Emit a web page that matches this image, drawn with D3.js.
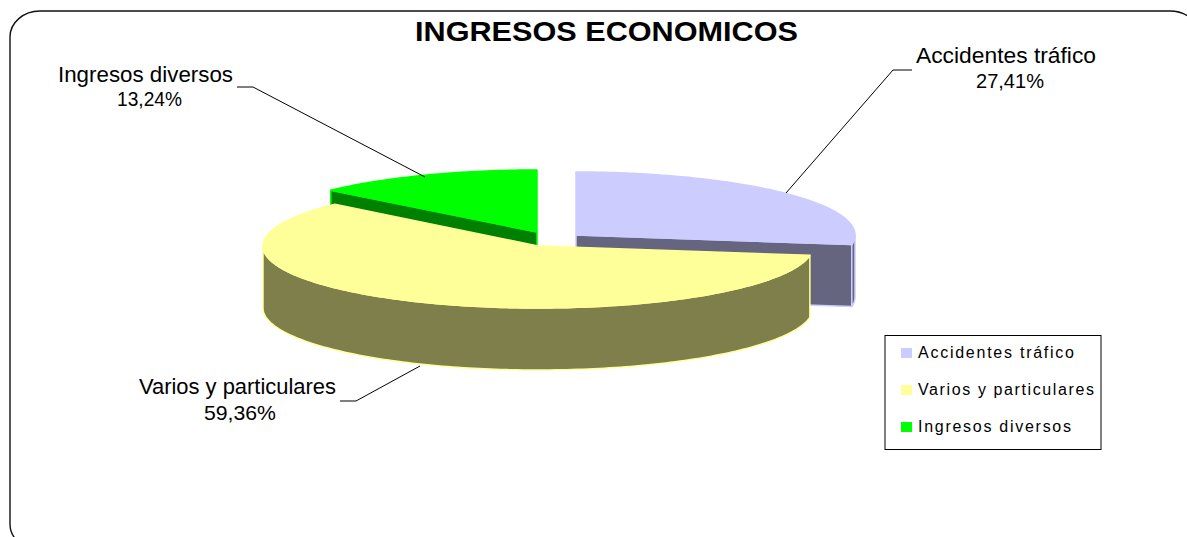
<!DOCTYPE html>
<html><head><meta charset="utf-8">
<script src="https://cdn.jsdelivr.net/npm/d3@7"></script>
<style>html,body{margin:0;padding:0;background:#fff;overflow:hidden}svg{display:block}text{font-family:"Liberation Sans",Arial,sans-serif;fill:#000}</style>
</head><body><svg id="c" width="1187" height="537"></svg>
<script>
const categories = ["Accidentes tráfico", "Varios y particulares", "Ingresos diversos"];
const values = [27.41, 59.36, 13.24];
const percentLabels = ["27,41%", "59,36%", "13,24%"];
const topColors = ["#CCCCFF", "#FFFF99", "#00FF00"];
const wallColors = ["#65657F", "#7F7F4C", "#008000"];
const edgeColors = ["#CCCCFF", "#FFFF99", "#00FF00"];
const centers = [[576, 235], [538, 246], [537, 232]];
const radii = [[279, 63], [275, 62], [279, 62]];
const depth = 62;
const drawOrder = [0, 2, 1];
const labelPos = [[1006, 63, 1010, 88], [237.5, 394, 240, 420], [145.5, 82, 149.5, 106]];
const labelWidths = [180, 197, 175];
const percentWidths = [68, 72, 65];
const legendWidths = [156, 176, 153];
const leaders = [[[786, 193], [893, 70], [912, 70]], [[420, 366], [356, 401], [340, 401]], [[425, 177], [253, 87], [237, 87]]];
const svg = d3.select("#c");
const line = d3.line();

svg.append("rect").attr("x", 10).attr("y", 11).attr("width", 1190).attr("height", 539)
  .attr("rx", 30).attr("ry", 26).attr("fill", "#fff").attr("stroke", "#111").attr("stroke-width", 1.4);

svg.append("text").attr("x", 606.5).attr("y", 41).attr("text-anchor", "middle")
  .attr("font-size", 28).attr("font-weight", "bold")
  .attr("textLength", 383).attr("lengthAdjust", "spacingAndGlyphs").text("INGRESOS ECONOMICOS");

const slices = d3.pie().sort(null).value(d => d)(values);
const point = (i, a, dy = 0) => [
  centers[i][0] + radii[i][0] * Math.sin(a),
  centers[i][1] - radii[i][1] * Math.cos(a) + dy
];
const angles = (a0, a1) => {
  const n = Math.max(2, Math.ceil((a1 - a0) / 0.02));
  return d3.range(n + 1).map(k => a0 + (a1 - a0) * k / n);
};

drawOrder.forEach(i => {
  const s = slices[i];
  const g = svg.append("g");
  const wall = (pts) => g.append("path").attr("d", line(pts) + "Z")
    .attr("fill", wallColors[i]).attr("stroke", edgeColors[i]).attr("stroke-width", 1.5).attr("stroke-linejoin", "round");
  const apex = [centers[i][0], centers[i][1]];
  if (i === 0) {
    const e = point(i, s.endAngle);
    wall([apex, e, [e[0], e[1] + depth], [apex[0], apex[1] + depth]]);
  }
  if (i === 2) {
    const e = point(i, s.startAngle);
    wall([e, apex, [apex[0], apex[1] + depth], [e[0], e[1] + depth]]);
  }
  const a0 = Math.max(s.startAngle, Math.PI / 2);
  const a1 = Math.min(s.endAngle, 3 * Math.PI / 2);
  if (a1 > a0) {
    const as = angles(a0, a1);
    wall(as.map(a => point(i, a)).concat(as.slice().reverse().map(a => point(i, a, depth))));
  }
  const top = [apex].concat(angles(s.startAngle, s.endAngle).map(a => point(i, a)));
  g.append("path").attr("d", line(top) + "Z").attr("fill", topColors[i])
    .attr("stroke", edgeColors[i]).attr("stroke-width", 1.5).attr("stroke-linejoin", "round");
});

categories.forEach((c, i) => {
  svg.append("path").attr("d", line(leaders[i])).attr("fill", "none").attr("stroke", "#000").attr("stroke-width", 1);
  const p = labelPos[i];
  svg.append("text").attr("x", p[0]).attr("y", p[1]).attr("text-anchor", "middle")
    .attr("font-size", 22).attr("textLength", labelWidths[i]).attr("lengthAdjust", "spacingAndGlyphs").text(c);
  svg.append("text").attr("x", p[2]).attr("y", p[3]).attr("text-anchor", "middle")
    .attr("font-size", 21).attr("textLength", percentWidths[i]).attr("lengthAdjust", "spacingAndGlyphs").text(percentLabels[i]);
});

const legendY = d3.scalePoint().domain(categories).range([353, 427]);
svg.append("rect").attr("x", 885).attr("y", 335.5).attr("width", 216).attr("height", 114)
  .attr("fill", "#fff").attr("stroke", "#000").attr("stroke-width", 1);
categories.forEach((c, i) => {
  const y = legendY(c);
  svg.append("rect").attr("x", 901).attr("y", y - 5).attr("width", 11).attr("height", 10).attr("fill", topColors[i]);
  svg.append("text").attr("x", 918).attr("y", y + 5).attr("font-size", 16)
    .attr("textLength", legendWidths[i]).attr("lengthAdjust", "spacing").text(c);
});
</script></body></html>
